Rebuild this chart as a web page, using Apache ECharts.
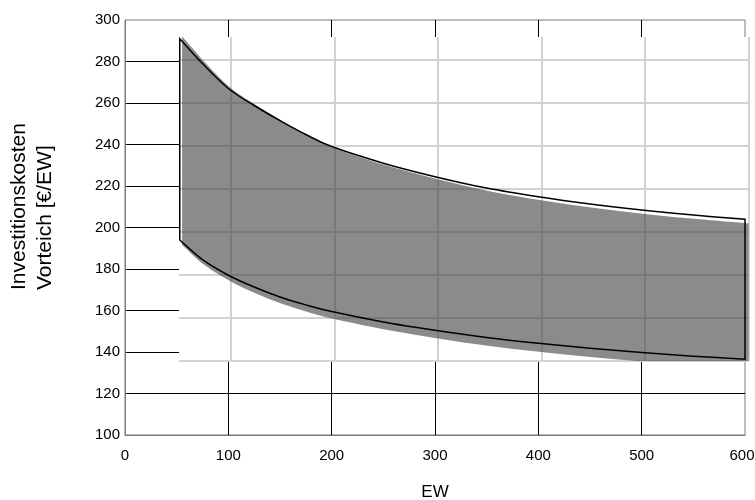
<!DOCTYPE html>
<html><head><meta charset="utf-8">
<script src="https://cdn.jsdelivr.net/npm/echarts@6/dist/echarts.min.js"></script>
<style>html,body{margin:0;padding:0;background:#fff}#c{width:755px;height:500px}</style>
</head><body><div id="c"></div>
<script>
// ---- data ----
const ewValues  = [53, 75, 100, 125, 150, 175, 200, 250, 300, 350, 400, 450, 500, 550, 600];
const upperCost = [291, 279, 267, 258.8, 251.5, 244.8, 239, 231, 224.5, 219, 214.8, 211.3, 208.4, 206, 204];
const lowerCost = [194, 184.5, 177, 171.3, 166.5, 162.7, 159.5, 154.5, 150.5, 147, 144.2, 141.8, 139.7, 138, 136.5];
const xTickLabels = ['0', '100', '200', '300', '400', '500', '600'];
const yTickLabels = ['100', '120', '140', '160', '180', '200', '220', '240', '260', '280', '300'];
const yTitleLines = ['Investitionskosten', 'Vorteich [€/EW]'];
const xTitle = 'EW';

const FONT = '"Liberation Sans", Arial, sans-serif';
const upperPts = ewValues.map((x, i) => [x, upperCost[i]]);
const lowerPts = ewValues.map((x, i) => [x, lowerCost[i]]);

// smooth path through pixel points (Catmull-Rom as cubic Bezier)
function curveSeg(p) {
  let d = '';
  for (let i = 0; i < p.length - 1; i++) {
    const p0 = p[Math.max(i - 1, 0)], p1 = p[i], p2 = p[i + 1], p3 = p[Math.min(i + 2, p.length - 1)];
    const c1 = [p1[0] + (p2[0] - p0[0]) / 6, p1[1] + (p2[1] - p0[1]) / 6];
    const c2 = [p2[0] - (p3[0] - p1[0]) / 6, p2[1] - (p3[1] - p1[1]) / 6];
    d += ' C' + c1[0] + ' ' + c1[1] + ' ' + c2[0] + ' ' + c2[1] + ' ' + p2[0] + ' ' + p2[1];
  }
  return d;
}

function bandPath(api) {
  const up = upperPts.map(p => api.coord(p));
  const lo = lowerPts.map(p => api.coord(p)).reverse();
  return 'M' + up[0][0] + ' ' + up[0][1] + curveSeg(up) +
         ' L' + lo[0][0] + ' ' + lo[0][1] + curveSeg(lo) + ' Z';
}

function renderFill(params, api) {
  if (params.dataIndex !== 0) return;
  return {type: 'path', shape: {pathData: bandPath(api)},
          style: {fill: 'rgba(62,62,62,0.6)', stroke: null}};
}

function renderOutline(params, api) {
  if (params.dataIndex !== 0) return;
  return {type: 'path', shape: {pathData: bandPath(api)},
          style: {fill: null, stroke: '#000', lineWidth: 1.5, lineJoin: 'miter'}};
}

const chart = echarts.init(document.getElementById('c'), null, {renderer: 'canvas'});
chart.setOption({
  animation: false,
  backgroundColor: '#fff',
  grid: [
    {left: 125, right: 10, top: 20, bottom: 65, outerBoundsMode: 'none', containLabel: false,
     show: true, borderColor: '#7a7a7a', borderWidth: 1, backgroundColor: 'transparent', z: 0},
    {left: 179, right: 6.5, top: 37, bottom: 139, outerBoundsMode: 'none', containLabel: false,
     show: true, borderWidth: 0, backgroundColor: '#fff', z: 1}
  ],
  xAxis: [
    {
      gridIndex: 0, type: 'value', min: 0, max: 600, interval: 100,
      name: xTitle, nameLocation: 'middle', nameGap: 49,
      nameTextStyle: {fontFamily: FONT, fontSize: 17, color: '#000'},
      axisLine: {show: true, lineStyle: {color: '#7a7a7a', width: 1}},
      axisTick: {show: false},
      axisLabel: {fontFamily: FONT, fontSize: 15, color: '#000', margin: 13,
        formatter: (v) => {
          const t = xTickLabels[Math.round(v / 100)];
          return v === 600 ? '{m|' + t + '}' : t;
        },
        rich: {m: {fontFamily: FONT, fontSize: 15, color: '#000', padding: [0, 6, 0, 0]}}},
      splitLine: {show: true, showMinLine: false, showMaxLine: false, lineStyle: {color: '#000', width: 1}}
    },
    {
      gridIndex: 1, type: 'value', min: 50, max: 600, interval: 50, z: 1,
      axisLine: {show: false}, axisTick: {show: false}, axisLabel: {show: false},
      splitLine: {show: true, lineStyle: {color: ['rgba(0,0,0,0)', '#d2d2d2'], width: 2}}
    }
  ],
  yAxis: [
    {
      gridIndex: 0, type: 'value', min: 100, max: 300, interval: 20,
      axisLine: {show: true, lineStyle: {color: '#7a7a7a', width: 1}},
      axisTick: {show: false},
      axisLabel: {fontFamily: FONT, fontSize: 15, color: '#000', margin: 5,
        formatter: (v) => yTickLabels[Math.round((v - 100) / 20)]},
      splitLine: {show: true, showMinLine: false, showMaxLine: false, lineStyle: {color: '#000', width: 1}}
    },
    {
      gridIndex: 1, type: 'value', min: 140, max: 290.7, interval: 20, z: 1,
      axisLine: {show: false}, axisTick: {show: false}, axisLabel: {show: false},
      splitLine: {show: true, showMaxLine: false, lineStyle: {color: '#d2d2d2', width: 2}}
    }
  ],
  graphic: [{
    type: 'text', x: 32, y: 290, rotation: Math.PI / 2, z: 10,
    style: {text: yTitleLines.join('\n'), font: '21px ' + FONT, fill: '#000',
      textAlign: 'left', textVerticalAlign: 'middle', lineHeight: 26}
  }],
  series: [
    {type: 'custom', coordinateSystem: 'cartesian2d', xAxisIndex: 1, yAxisIndex: 1,
     data: [[ewValues[0], upperCost[0]]], renderItem: renderFill, clip: true, silent: true, z: 2},
    {type: 'custom', coordinateSystem: 'cartesian2d', xAxisIndex: 0, yAxisIndex: 0,
     data: [[ewValues[0], upperCost[0]]], renderItem: renderOutline, clip: false, silent: true, z: 5}
  ]
});
</script>
</body></html>
